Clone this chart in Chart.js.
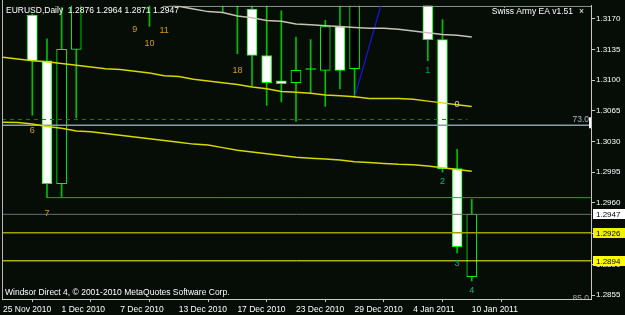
<!DOCTYPE html>
<html><head><meta charset="utf-8">
<script src="https://cdn.jsdelivr.net/npm/chart.js@4.4.1/dist/chart.umd.min.js"></script>
<style>html,body{margin:0;padding:0;background:#060c06;overflow:hidden}canvas{display:block}</style>
</head><body>
<canvas id="c" width="625" height="315"></canvas>
<script>
// ---- data ----
const symbolName = 'EURUSD,Daily';
const barIndex = [0,1,2,3,4,5,6,7,8,9,10,11,12,13,14,15,16,17,18,19,20,21,22,23,24,25,26,27,28,29,30,31,32];
const opens  = [1.3370,1.3330,1.3174,1.3122,1.2982,1.3135,1.3280,1.3420,1.3260,1.3290,1.3250,1.3240,1.3230,1.3380,1.3370,1.3230,1.3220,1.3181,1.3128,1.3099,1.3097,1.3112,1.3111,1.3161,1.3113,1.3200,1.3280,1.3380,1.3350,1.3320,1.3146,1.2999,1.2876];
const highs  = [1.3390,1.3340,1.3175,1.3147,1.3183,1.3290,1.3440,1.3440,1.3400,1.3310,1.3280,1.3270,1.3390,1.3420,1.3390,1.3260,1.3250,1.3200,1.3190,1.3179,1.3149,1.3146,1.3168,1.3200,1.3240,1.3300,1.3400,1.3400,1.3420,1.3340,1.3169,1.3021,1.2964];
const lows   = [1.3300,1.3220,1.3060,1.2966,1.2967,1.3057,1.3210,1.3250,1.3240,1.3200,1.3161,1.3200,1.3220,1.3350,1.3220,1.3178,1.3130,1.3093,1.3071,1.3075,1.3053,1.3085,1.3070,1.3090,1.3080,1.3190,1.3260,1.3290,1.3300,1.3122,1.2995,1.2903,1.2871];
const closes = [1.3330,1.3240,1.3122,1.2982,1.3135,1.3280,1.3420,1.3260,1.3290,1.3250,1.3240,1.3230,1.3380,1.3370,1.3230,1.3220,1.3190,1.3128,1.3097,1.3096,1.3111,1.3113,1.3161,1.3111,1.3200,1.3280,1.3380,1.3350,1.3320,1.3146,1.2999,1.2910,1.2947];

const grayMaStart = 11;
const grayMa = [1.3187,1.3184,1.3181,1.3178,1.3177,1.3173,1.3171,1.3168,1.3167,1.3164,1.3163,1.3162,1.3161,1.3160,1.3159,1.3159,1.3158,1.3156,1.3154,1.3152,1.3151,1.3149];
const yellowMaUpper = [1.3126,1.3124,1.3122,1.3121,1.3119,1.3117,1.3115,1.3113,1.3112,1.3110,1.3108,1.3105,1.3104,1.3101,1.3099,1.3097,1.3095,1.3092,1.3090,1.3087,1.3086,1.3085,1.3083,1.3082,1.3081,1.3079,1.3079,1.3079,1.3078,1.3076,1.3074,1.3072,1.3070];
const yellowMaLower = [1.3052,1.30515,1.3050,1.3047,1.3045,1.3042,1.3041,1.3039,1.3037,1.3035,1.3033,1.3031,1.3029,1.3027,1.3026,1.3023,1.3020,1.3018,1.3016,1.3014,1.3012,1.3011,1.3010,1.3009,1.3007,1.3006,1.3005,1.3004,1.30035,1.3002,1.3000,1.2998,1.2996];

const trendBars = [24, 26];
const trendPrices = [1.3080, 1.3197];

const levelPrices = [1.3184, 1.3055, 1.30485, 1.2966, 1.2947, 1.2926, 1.2894];
const levelFromBar = [10.9, null, null, 3, null, null, null];
const levelToBar   = [null, 31.7, null, null, null, null, null];

const markTexts  = ['9','10','11','18','6','7','1','0','2','3','4'];
const markBars   = [9,10,11,16,2,3,29,31,30,31,32];
const markPrices = [1.31576,1.31419,1.31565,1.31107,1.30430,1.29476,1.31112,1.3072,1.29844,1.28913,1.28598];

const dateTickBars = [0,4,8,12,16,20,24,28,32];
const dateLabels = ['25 Nov 2010','1 Dec 2010','7 Dec 2010','13 Dec 2010','17 Dec 2010','23 Dec 2010','29 Dec 2010','4 Jan 2011','10 Jan 2011'];
const priceTicks = [1.3170,1.3135,1.3100,1.3065,1.3030,1.2995,1.2960,1.2925,1.2890,1.2855];
const boxPrices = [1.2947, 1.2926, 1.2894];
const levelTexts = ['73.0','85.0'];
const eaName = 'Swiss Army EA v1.51';
const footerText = 'Windsor Direct 4, \u00a9 2001-2010 MetaQuotes Software Corp.';

// ---- layout / style ----
const X_MIN = -0.07, X_MAX = 40.14;
const Y_MIN = 1.28505, Y_MAX = 1.318463;
const FONT = '"Liberation Sans", Arial, sans-serif';
const levelStyles = [
  {c:'#a0a0a0', w:1, d:[]},
  {c:'#008a00', w:1, d:[4,4]},
  {c:'#8c9ca8', w:1.5, d:[]},
  {c:'#00c000', w:1, d:[]},
  {c:'#6e6e6e', w:1, d:[]},
  {c:'#a0a000', w:1.5, d:[]},
  {c:'#ffff00', w:1, d:[]}
];
const markColors = ['#d0a010','#d0a010','#d0a010','#d0a010','#d0a010','#d0a010','#00a070','#d8d8d8','#10b888','#10b888','#10b888'];
const boxColors = ['#ffffff','#f0f000','#ffff00'];

const datasets = [];
datasets.push({type:'line', order:1, data: grayMa.map((v,k)=>({x:grayMaStart+k, y:v})), borderColor:'#c4c4b4', borderWidth:1.5, pointRadius:0, tension:0, clip:0});
datasets.push({type:'line', order:1, data: yellowMaUpper.map((v,k)=>({x:barIndex[k], y:v})), borderColor:'#d8d800', borderWidth:1.5, pointRadius:0, tension:0, clip:0});
datasets.push({type:'line', order:1, data: yellowMaLower.map((v,k)=>({x:barIndex[k], y:v})), borderColor:'#d8d800', borderWidth:1.5, pointRadius:0, tension:0, clip:0});
datasets.push({type:'line', order:1, data: trendBars.map((b,k)=>({x:b, y:trendPrices[k]})), borderColor:'#1818e0', borderWidth:1.2, pointRadius:0, tension:0, clip:0});
levelPrices.forEach((p,k)=>{
  const a = levelFromBar[k]===null ? X_MIN : levelFromBar[k];
  const b = levelToBar[k]===null ? X_MAX : levelToBar[k];
  datasets.push({type:'line', order:1, data:[{x:a,y:p},{x:b,y:p}], borderColor:levelStyles[k].c, borderWidth:levelStyles[k].w, borderDash:levelStyles[k].d, pointRadius:0, clip:0});
});
datasets.push({type:'bar', order:2, grouped:false, barThickness:10, borderSkipped:false, borderWidth:1, clip:0,
  data: barIndex.map(i=>({x:i, y:[opens[i], closes[i]]})),
  backgroundColor: barIndex.map(i=> Math.abs(closes[i]-opens[i])<0.00015 ? '#00ff00' : (closes[i]>opens[i] ? '#000000' : '#ffffff')),
  borderColor:'#00ff00'});
datasets.push({type:'bar', order:3, grouped:false, barThickness:1, borderWidth:0, clip:0,
  data: barIndex.map(i=>({x:i, y:[lows[i], highs[i]]})), backgroundColor:'#00c000'});

const bgPlugin = {id:'bg', beforeDraw(c){const ctx=c.ctx; ctx.save(); ctx.fillStyle='#060c06'; ctx.fillRect(0,0,c.width,c.height); ctx.restore();}};

const overlayPlugin = {
  id:'overlay',
  afterDatasetsDraw(c){
    const {ctx, chartArea:a, scales:{x,y}} = c;
    ctx.save();
    ctx.beginPath(); ctx.rect(a.left, a.top, a.right-a.left, a.bottom-a.top); ctx.clip();
    ctx.font = '9px '+FONT; ctx.textAlign='center'; ctx.textBaseline='middle';
    markTexts.forEach((t,k)=>{ ctx.fillStyle=markColors[k]; ctx.fillText(t, x.getPixelForValue(markBars[k]), y.getPixelForValue(markPrices[k])); });
    ctx.font = '8.5px '+FONT; ctx.textAlign='right'; ctx.textBaseline='middle';
    ctx.fillStyle='#a8bccb';
    ctx.fillText(levelTexts[0], a.right-2, y.getPixelForValue(levelPrices[2])-5.5);
    ctx.fillStyle='#a0a0a0';
    ctx.fillText(levelTexts[1], a.right-2, a.bottom);
    ctx.fillStyle='#ffffff';
    ctx.fillRect(a.right-2, y.getPixelForValue(levelPrices[2])-8, 2, 11);
    ctx.textAlign='left'; ctx.textBaseline='alphabetic'; ctx.fillStyle='#ffffff';
    const n = closes.length-1;
    ctx.fillText(symbolName+'  '+[opens[n],highs[n],lows[n],closes[n]].map(v=>v.toFixed(4)).join(' '), 6, 13);
    ctx.textAlign='right';
    ctx.fillText(eaName, 573, 14);
    ctx.textAlign='left';
    ctx.fillText('\u00d7', 579, 14);
    ctx.fillText(footerText, 5, 294.5);
    ctx.restore();
  },
  afterDraw(c){
    const {ctx, chartArea:a, scales:{y}} = c;
    ctx.save();
    ctx.strokeStyle='#b8b8b8'; ctx.lineWidth=1;
    ctx.beginPath(); ctx.moveTo(a.left+0.5, 0); ctx.lineTo(a.left+0.5, a.bottom); ctx.stroke();
    ctx.font = '8px '+FONT; ctx.textBaseline='middle'; ctx.textAlign='left';
    boxPrices.forEach((p,k)=>{
      const py = Math.round(y.getPixelForValue(p));
      ctx.fillStyle = boxColors[k];
      ctx.fillRect(a.right+2, py-5, 34, 10);
      ctx.fillStyle = '#000000';
      ctx.fillText(p.toFixed(4), a.right+5, py+0.5);
    });
    ctx.restore();
  }
};

new Chart(document.getElementById('c'), {
  data: {datasets},
  options: {
    responsive:false, animation:false, devicePixelRatio:1,
    layout:{padding:{left:2, top:2, right:0, bottom:0}},
    plugins:{legend:{display:false}, tooltip:{enabled:false}},
    scales:{
      x:{type:'linear', min:X_MIN, max:X_MAX, offset:false,
        afterBuildTicks(s){ s.ticks = dateTickBars.map(v=>({value:v})); },
        afterFit(s){ s.height = 16; },
        grid:{drawOnChartArea:false, drawTicks:true, tickLength:3, color:'#c8c8c8'},
        border:{display:true, color:'#c8c8c8', width:1},
        ticks:{autoSkip:false, maxRotation:0, minRotation:0, align:'start', padding:3, color:'#ffffff', font:{family:FONT, size:8.5},
          callback(v, idx){ return dateLabels[idx]; }}
      },
      y:{type:'linear', position:'right', min:Y_MIN, max:Y_MAX,
        afterBuildTicks(s){ s.ticks = priceTicks.map(v=>({value:v})); },
        afterFit(s){ s.width = 34; },
        grid:{drawOnChartArea:false, drawTicks:true, tickLength:4, color:'#c8c8c8'},
        border:{display:true, color:'#c8c8c8', width:1},
        ticks:{padding:1, color:'#ffffff', font:{family:FONT, size:8}, callback(v){ return Number(v).toFixed(4); }}
      }
    }
  },
  plugins:[bgPlugin, overlayPlugin]
});
</script>
</body></html>
